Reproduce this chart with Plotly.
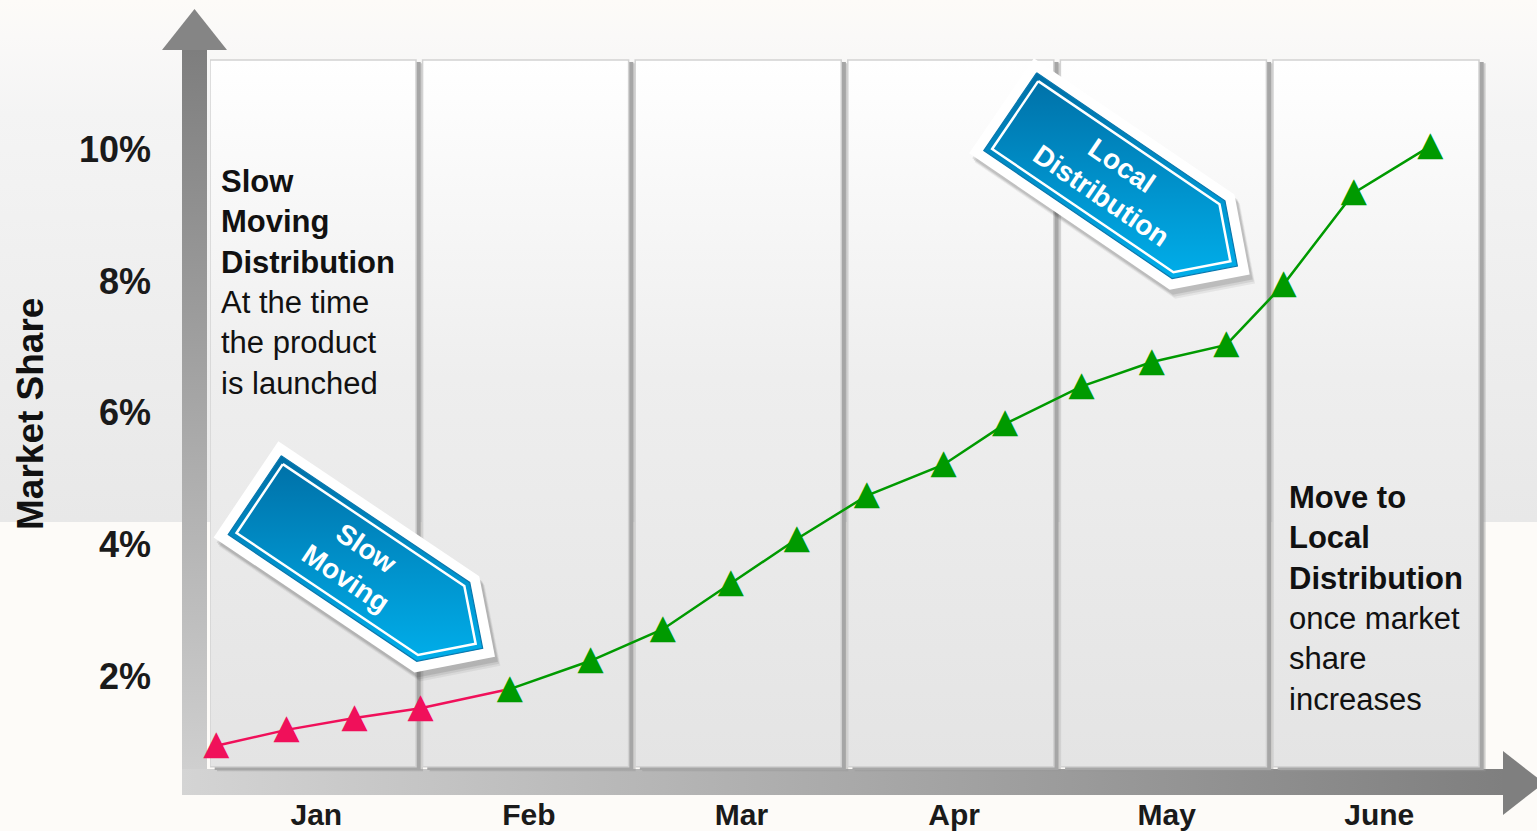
import numpy as np
import plotly.graph_objects as go

# ---------------- data ----------------
months = ["Jan", "Feb", "Mar", "Apr", "May", "June"]
month_pos = [0.5, 1.5, 2.5, 3.5, 4.5, 5.5]
share_ticks = [2, 4, 6, 8, 10]
share_tick_text = ["2%", "4%", "6%", "8%", "10%"]

# time in months from the start of Jan, market share in %
slow_t = [0.03, 0.36, 0.68, 0.99]
slow_share = [0.94, 1.18, 1.36, 1.51]
local_t = [1.41, 1.79, 2.13, 2.45, 2.76, 3.09, 3.45, 3.74, 4.10, 4.43, 4.78, 5.05, 5.38, 5.74]
local_share = [1.80, 2.23, 2.71, 3.40, 4.08, 4.74, 5.21, 5.83, 6.40, 6.77, 7.03, 7.95, 9.34, 10.05]

callout_labels = ["Slow<br>Moving", "Local<br>Distribution"]
note_left = "<b>Slow<br>Moving<br>Distribution</b><br>At the time<br>the product<br>is launched"
note_right = "<b>Move to<br>Local<br>Distribution</b><br>once market<br>share<br>increases"
y_title = "Market Share"

# ---------------- style ----------------
W, H = 1537, 831
FONT = "Liberation Sans, Arial, Helvetica, sans-serif"
RED = "#F0105A"
GREEN = "#009A00"
TRI = "\u25B2"
TRI_SIZE = 34
PANEL_W = 0.969
Y_LO, Y_HI = 0.54, 11.42
PANEL_Y0, PANEL_Y1 = 0.62, 11.36

fig = go.Figure()


def poly(xs, ys, xa, ya, grad=None, fill=None, line=None, lw=0):
    xs = list(xs) + [xs[0]]
    ys = list(ys) + [ys[0]]
    kw = dict(x=xs, y=ys, xaxis=xa, yaxis=ya, mode="lines", hoverinfo="skip",
              showlegend=False, line=dict(width=lw, color=line or "rgba(0,0,0,0)"))
    if fill is not None or grad is not None:
        kw["fill"] = "toself"
        if fill is not None:
            kw["fillcolor"] = fill
        if grad is not None:
            kw["fillgradient"] = grad
    fig.add_trace(go.Scatter(**kw))


# ---------- background (pixel subplot x/y) ----------
poly([0, W, W, 0], [0, 0, 522, 522], "x", "y",
     grad=dict(type="vertical", start=0, stop=522,
               colorscale=[[0, "#FDFBF8"], [0.07, "#FAF9F8"], [0.22, "#F4F4F4"], [1, "#E8E8E8"]]))

# vertical axis arrow
poly([182, 207, 207, 182], [50, 50, 795, 795], "x", "y",
     grad=dict(type="vertical", start=50, stop=795,
               colorscale=[[0, "#7E7E7E"], [1, "#D2D2D2"]]))
poly([162, 227, 194.5], [50, 50, 9], "x", "y", fill="#858585")
# horizontal axis arrow
poly([182, 1505, 1505, 182], [769, 769, 795, 795], "x", "y",
     grad=dict(type="horizontal", start=182, stop=1505,
               colorscale=[[0, "#D4D4D4"], [1, "#7F7F7F"]]))
poly([1503, 1503, 1544], [751, 815, 783], "x", "y", fill="#7F7F7F")

# ---------- panels (data subplot x2/y2) ----------
for i in range(len(months)):
    x0, x1 = i, i + PANEL_W
    poly([x0 + 0.033, x1 + 0.033, x1 + 0.033, x0 + 0.033],
         [PANEL_Y0 - 0.07, PANEL_Y0 - 0.07, PANEL_Y1 - 0.05, PANEL_Y1 - 0.05], "x2", "y2",
         fill="rgba(150,150,150,0.45)")
    poly([x0 + 0.022, x1 + 0.022, x1 + 0.022, x0 + 0.022],
         [PANEL_Y0 - 0.05, PANEL_Y0 - 0.05, PANEL_Y1 - 0.03, PANEL_Y1 - 0.03], "x2", "y2",
         fill="#A6A6A6")
    poly([x0, x1, x1, x0], [PANEL_Y0, PANEL_Y0, PANEL_Y1, PANEL_Y1], "x2", "y2",
         grad=dict(type="vertical", colorscale=[[0, "#E4E4E4"], [0.55, "#EEEEEE"], [1, "#FFFFFF"]]),
         line="#D2D2D2", lw=1.5)

# ---------- data lines (triangle glyph markers) ----------
red_x = slow_t + local_t[:1]
red_y = slow_share + local_share[:1]
fig.add_trace(go.Scatter(
    x=red_x, y=red_y, xaxis="x2", yaxis="y2",
    mode="lines+text", line=dict(color=RED, width=2.5),
    text=[TRI] * len(slow_t) + [""], textposition="middle center",
    textfont=dict(family="DejaVu Sans", size=TRI_SIZE, color=RED),
    showlegend=False, name="Slow Moving", cliponaxis=False))
fig.add_trace(go.Scatter(
    x=local_t, y=local_share, xaxis="x2", yaxis="y2",
    mode="lines+text", line=dict(color=GREEN, width=2.5),
    text=[TRI] * len(local_t), textposition="middle center",
    textfont=dict(family="DejaVu Sans", size=TRI_SIZE, color=GREEN),
    showlegend=False, name="Local Distribution", cliponaxis=False))


# ---------- callout arrows (overlay pixel subplot x3/y3) ----------
def pentagon(cx, cy, L, Wd, ang, inset=0.0):
    a = np.radians(ang)
    ux, uy = np.cos(a), np.sin(a)
    vx, vy = -np.sin(a), np.cos(a)
    hw = Wd / 2 - inset
    u0 = -L / 2 + inset
    ut = L / 2 - inset * np.sqrt(2)
    pts = [(u0, -hw), (ut - hw, -hw), (ut, 0), (ut - hw, hw), (u0, hw)]
    xs = [cx + u * ux + v * vx for u, v in pts]
    ys = [cy + u * uy + v * vy for u, v in pts]
    return xs, ys


callouts = [dict(cx=370.5, cy=573, L=300, Wd=116, ang=33.9),
            dict(cx=1125.6, cy=190.1, L=300, Wd=115, ang=34.2)]
for c, label in zip(callouts, callout_labels):
    for off, alpha in [(9, 0.06), (7, 0.08), (5, 0.10)]:
        xs, ys = pentagon(c["cx"] + off * 0.6, c["cy"] + off, c["L"], c["Wd"], c["ang"])
        poly(xs, ys, "x3", "y3", fill=f"rgba(0,0,0,{alpha})")
    xs, ys = pentagon(c["cx"], c["cy"], c["L"], c["Wd"], c["ang"])
    poly(xs, ys, "x3", "y3", fill="#FFFFFF")
    xs, ys = pentagon(c["cx"], c["cy"], c["L"], c["Wd"], c["ang"], inset=10.5)
    poly(xs, ys, "x3", "y3",
         grad=dict(type="vertical", start=min(ys), stop=max(ys),
                   colorscale=[[0, "#006FA6"], [1, "#00AEEA"]]),
         line="#0A78AE", lw=1.2)
    xs, ys = pentagon(c["cx"], c["cy"], c["L"], c["Wd"], c["ang"], inset=16.5)
    poly(xs, ys, "x3", "y3", line="#FFFFFF", lw=2.5)
    a = np.radians(c["ang"])
    tx, ty = c["cx"] - 17 * np.cos(a), c["cy"] - 17 * np.sin(a)
    fig.add_annotation(x=tx, y=ty, xref="x3", yref="y3", text=f"<b>{label}</b>",
                       showarrow=False, textangle=c["ang"], align="center",
                       font=dict(family=FONT, size=28, color="#FFFFFF"))

# ---------- text annotations ----------
fig.add_annotation(x=219, y=282, xref="x", yref="y", text=note_left, showarrow=False,
                   xanchor="left", yanchor="middle", align="left",
                   font=dict(family=FONT, size=31, color="#111111"))
fig.add_annotation(x=1287, y=598, xref="x", yref="y", text=note_right, showarrow=False,
                   xanchor="left", yanchor="middle", align="left",
                   font=dict(family=FONT, size=31, color="#111111"))
fig.add_annotation(x=30, y=414, xref="x", yref="y", text=f"<b>{y_title}</b>", showarrow=False,
                   textangle=-90, font=dict(family=FONT, size=37, color="#111111"))

# ---------- layout ----------
hidden = dict(showgrid=False, zeroline=False, showticklabels=False, showline=False,
              ticks="", fixedrange=True)
fig.update_layout(
    width=W, height=H, margin=dict(l=0, r=0, t=0, b=0),
    paper_bgcolor="#FDFBF8", plot_bgcolor="rgba(0,0,0,0)",
    showlegend=False,
    xaxis=dict(domain=[0, 1], range=[0, W], **hidden),
    yaxis=dict(domain=[0, 1], range=[H, 0], **hidden),
    xaxis2=dict(domain=[210 / W, 1485.6 / W], range=[0, 6], anchor="y2",
                tickvals=month_pos, ticktext=[f"<b>{m}</b>" for m in months],
                showgrid=False, zeroline=False,
                showline=False, ticks="", ticklabelstandoff=22,
                tickfont=dict(family=FONT, size=30, color="#1A1A1A"), fixedrange=True),
    yaxis2=dict(domain=[1 - 772 / H, 1 - 56 / H], range=[Y_LO, Y_HI], anchor="x2",
                tickvals=share_ticks, ticktext=[f"<b>{t}</b>" for t in share_tick_text],
                showgrid=False, zeroline=False, showline=False, ticks="",
                ticklabelstandoff=58,
                tickfont=dict(family=FONT, size=36, color="#1A1A1A"), fixedrange=True),
    xaxis3=dict(domain=[0, 1], range=[0, W], anchor="y3", **hidden),
    yaxis3=dict(domain=[0, 1], range=[H, 0], anchor="x3", **hidden),
)

fig.write_html("out.html", config={"displayModeBar": False},
               post_script="document.body.style.margin='0';")
